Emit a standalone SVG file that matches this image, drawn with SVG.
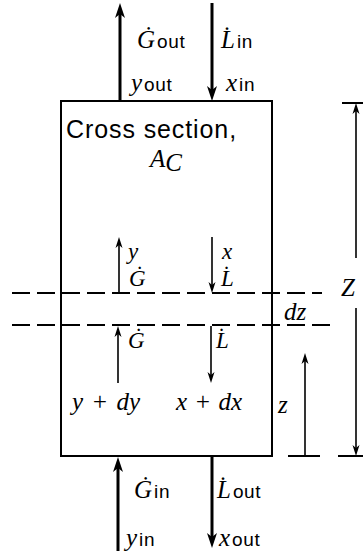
<svg xmlns="http://www.w3.org/2000/svg" width="363" height="551" viewBox="0 0 363 551">
<style>
.m{font-family:"Liberation Serif",serif;font-style:italic;font-size:25px;fill:#000}
.i{font-size:23px}
.s{font-family:"Liberation Sans",Arial,sans-serif;font-size:19px;letter-spacing:0.6px;fill:#000}
.lbl{font-family:"Liberation Sans",Arial,sans-serif;font-size:25px;letter-spacing:0.9px;fill:#000}
.thick{stroke:#000;stroke-width:3;fill:none}
.thin{stroke:#000;stroke-width:1.6;fill:none}
.dash{stroke:#000;stroke-width:2;fill:none;stroke-dasharray:18 7}
.box{stroke:#000;stroke-width:2;fill:#fff}
.tick{stroke:#000;stroke-width:2}
</style>
<defs>
<marker id="big" markerUnits="userSpaceOnUse" viewBox="-8 -6 17 12" markerWidth="17" markerHeight="12" refX="0" refY="0" orient="auto">
<path d="M8,0 L-7,-5 L-3,0 L-7,5 Z" fill="#000"/>
</marker>
<marker id="small" markerUnits="userSpaceOnUse" viewBox="-6 -5 13 10" markerWidth="13" markerHeight="10" refX="0" refY="0" orient="auto">
<path d="M6,0 L-5,-3.5 L-2,0 L-5,3.5 Z" fill="#000"/>
</marker>
</defs>

<g id="column">
<rect class="box" x="61" y="101" width="211" height="355"/>
<text class="lbl" x="66" y="138">Cross section,</text>
<text x="150" y="167"><tspan class="m">A</tspan><tspan class="m" font-size="16" dy="4">C</tspan></text>
</g>

<g id="slice">
<line class="dash" x1="12" y1="293" x2="322" y2="293"/>
<line class="dash" x1="12" y1="325" x2="330" y2="325"/>
</g>

<g id="connectors">
<line class="thick" x1="120" y1="101" x2="120" y2="11" marker-end="url(#big)"/>
<line class="thick" x1="212" y1="3" x2="212" y2="93" marker-end="url(#big)"/>
<line class="thick" x1="118" y1="551" x2="118" y2="465" marker-end="url(#big)"/>
<line class="thick" x1="212" y1="456" x2="212" y2="540" marker-end="url(#big)"/>
<line class="thin" x1="119" y1="293" x2="119" y2="243" marker-end="url(#small)"/>
<line class="thin" x1="212" y1="237" x2="212" y2="287" marker-end="url(#small)"/>
<line class="thin" x1="212" y1="293" x2="230" y2="293"/>
<line class="thin" x1="118" y1="383" x2="118" y2="332" marker-end="url(#small)"/>
<line class="thin" x1="211" y1="326" x2="211" y2="377" marker-end="url(#small)"/>
<line class="tick" x1="288" y1="456" x2="320" y2="456"/>
<line class="thin" x1="305" y1="456" x2="305" y2="359" marker-end="url(#small)"/>
<line class="tick" x1="342" y1="103" x2="363" y2="103"/>
<line class="tick" x1="338" y1="456" x2="363" y2="456"/>
<line class="thin" x1="356" y1="258" x2="356" y2="109" marker-end="url(#small)"/>
<line class="thin" x1="356" y1="308" x2="356" y2="450" marker-end="url(#small)"/>
</g>

<g id="labels">
<text x="137" y="48"><tspan class="m">Ġ</tspan><tspan class="s" dx="2">out</tspan></text>
<text x="221" y="48"><tspan class="m">L̇</tspan><tspan class="s" dx="2">in</tspan></text>
<text x="131" y="91"><tspan class="m">y</tspan><tspan class="s" dx="2">out</tspan></text>
<text x="226" y="91"><tspan class="m">x</tspan><tspan class="s" dx="2">in</tspan></text>
<text class="m i" x="128" y="259">y</text>
<text class="m i" x="129" y="286">Ġ</text>
<text class="m i" x="222" y="259">x</text>
<text class="m i" x="221" y="286">L̇</text>
<text class="m i" x="128" y="348">Ġ</text>
<text class="m i" x="216" y="348">L̇</text>
<text class="m" x="72" y="410" word-spacing="2">y + dy</text>
<text class="m" x="176" y="410" word-spacing="1">x + dx</text>
<text class="m" x="278" y="413">z</text>
<text class="m" x="284" y="320">dz</text>
<text class="m" x="341" y="296" font-size="26">Z</text>
<text x="134" y="498"><tspan class="m">Ġ</tspan><tspan class="s" dx="2">in</tspan></text>
<text x="217" y="498"><tspan class="m">L̇</tspan><tspan class="s" dx="2">out</tspan></text>
<text x="126" y="546"><tspan class="m">y</tspan><tspan class="s" dx="2">in</tspan></text>
<text x="219" y="546"><tspan class="m">x</tspan><tspan class="s" dx="2">out</tspan></text>
</g>
</svg>
